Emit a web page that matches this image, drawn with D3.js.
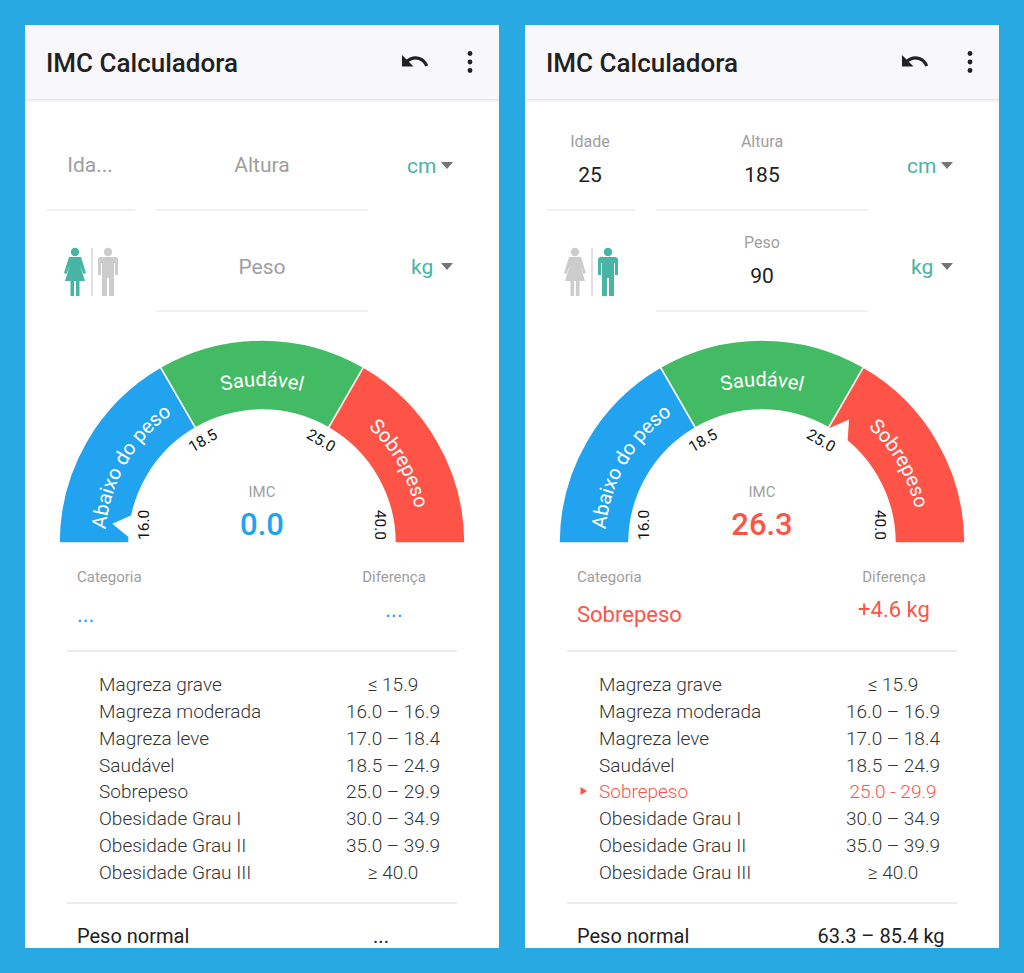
<!DOCTYPE html>
<html>
<head>
<meta charset="utf-8">
<script src="https://cdn.jsdelivr.net/npm/d3@7"></script>
<style>
html, body { margin: 0; padding: 0; background: #29a9e1; }
svg { display: block; font-family: Roboto, "Noto Sans", sans-serif; }
</style>
</head>
<body>
<div id="chart"></div>
<script>
// gauge ranges
const limites = [16, 18.5, 25, 40];
const faixas = ["Abaixo do peso", "Saudável", "Sobrepeso"];
const coresFaixa = ["#22a3ef", "#42bb64", "#fe5448"];

// reference table
const tabelaNomes = ["Magreza grave", "Magreza moderada", "Magreza leve", "Saudável",
    "Sobrepeso", "Obesidade Grau I", "Obesidade Grau II", "Obesidade Grau III"];
const tabelaFaixas = ["≤ 15.9", "16.0 – 16.9", "17.0 – 18.4", "18.5 – 24.9",
    "25.0 – 29.9", "30.0 – 34.9", "35.0 – 39.9", "≥ 40.0"];

// the two screens
const idades = ["", "25"];
const alturas = ["", "185"];
const pesos = ["", "90"];
const imcs = [0.0, 26.3];
const categorias = ["...", "Sobrepeso"];
const diferencas = ["...", "+4.6 kg"];
const pesosNormais = ["...", "63.3 – 85.4 kg"];
const sexos = ["F", "M"];
const linhaDestaque = [-1, 4];

const width = 1024, height = 973;
const panelW = 474, panelH = 923;
const teal = "#47b4a6", cinza = "#9e9e9e", cinzaIcone = "#cccccc";

const svg = d3.select("#chart").append("svg")
    .attr("width", width)
    .attr("height", height);

svg.append("rect").attr("width", width).attr("height", height).attr("fill", "#29a9e1");

const defs = svg.append("defs");
defs.append("clipPath").attr("id", "panel-clip")
    .append("rect").attr("width", panelW).attr("height", panelH);

const sombra = defs.append("linearGradient")
    .attr("id", "sombra").attr("x1", 0).attr("y1", 0).attr("x2", 0).attr("y2", 1);
sombra.append("stop").attr("offset", "0%").attr("stop-color", "rgba(0,0,0,0.10)");
sombra.append("stop").attr("offset", "100%").attr("stop-color", "rgba(0,0,0,0)");

// angle in degrees, 0 = top, clockwise
const angulo = d3.scaleLinear()
    .domain(limites)
    .range([-90, -30, 30, 90])
    .clamp(true);
const rad = d => d * Math.PI / 180;

const rInner = 133, rOuter = 203;
const arc = d3.arc()
    .innerRadius(rInner)
    .outerRadius(rOuter)
    .startAngle(d => rad(angulo(d.de)))
    .endAngle(d => rad(angulo(d.ate)));

const segmentos = faixas.map((f, i) => ({ nome: f, de: limites[i], ate: limites[i + 1], cor: coresFaixa[i] }));

function corDoValor(v) {
    if (v < limites[1]) return coresFaixa[0];
    if (v < limites[2]) return coresFaixa[1];
    return coresFaixa[2];
}

function pessoa(g, x, tipo, cor) {
    const p = g.append("g").attr("fill", cor);
    p.append("circle").attr("cx", x).attr("cy", 227).attr("r", 4.2);
    if (tipo === "F") {
        p.append("path").attr("d",
            `M${x - 6},232 L${x + 6},232 L${x + 11},248 L${x + 8.5},249 L${x + 5},240 L${x + 10},256 ` +
            `L${x - 10},256 L${x - 5},240 L${x - 8.5},249 L${x - 11},248 Z`);
        p.append("rect").attr("x", x - 4.5).attr("y", 255).attr("width", 3.6).attr("height", 16);
        p.append("rect").attr("x", x + 0.9).attr("y", 255).attr("width", 3.6).attr("height", 16);
    } else {
        p.append("path").attr("d",
            `M${x - 7},232 L${x + 7},232 Q${x + 10},232 ${x + 10},235 L${x + 10},250 L${x + 7},250 L${x + 7},238 ` +
            `L${x + 6},238 L${x + 6},271 L${x + 1},271 L${x + 1},253 L${x - 1},253 L${x - 1},271 L${x - 6},271 ` +
            `L${x - 6},238 L${x - 7},238 L${x - 7},250 L${x - 10},250 L${x - 10},235 Q${x - 10},232 ${x - 7},232 Z`);
    }
}

function campo(g, cx, x1, x2, rotulo, valor, yPlace, yRot, yVal, yLinha) {
    if (valor) {
        g.append("text").attr("x", cx).attr("y", yRot).attr("text-anchor", "middle")
            .attr("font-size", 16).attr("fill", cinza).text(rotulo);
        g.append("text").attr("x", cx).attr("y", yVal).attr("text-anchor", "middle")
            .attr("font-size", 21).attr("fill", "#212121").text(valor);
    } else {
        g.append("text").attr("x", cx).attr("y", yPlace).attr("text-anchor", "middle")
            .attr("font-size", 21).attr("fill", cinza)
            .text(rotulo.length > 4 && x2 - x1 < 100 ? rotulo.slice(0, 3) + "..." : rotulo);
    }
    g.append("line").attr("x1", x1).attr("x2", x2).attr("y1", yLinha).attr("y2", yLinha)
        .attr("stroke", "#ebebeb").attr("stroke-width", 1.5);
}

function unidade(g, x, y, texto) {
    g.append("text").attr("x", x).attr("y", y).attr("font-size", 21).attr("fill", teal).text(texto);
    g.append("path").attr("d", `M416,${y - 11} L428,${y - 11} L422,${y - 4} Z`).attr("fill", "#757575");
}

[0, 1].forEach(i => {
    const painel = svg.append("g")
        .attr("transform", `translate(${25 + i * 500},25)`)
        .attr("clip-path", "url(#panel-clip)");

    painel.append("rect").attr("width", panelW).attr("height", panelH).attr("fill", "#fff");

    // header bar
    painel.append("rect").attr("width", panelW).attr("height", 74).attr("fill", "#f8f8fc");
    painel.append("rect").attr("y", 74).attr("width", panelW).attr("height", 4).attr("fill", "url(#sombra)");
    painel.append("text").attr("x", 21).attr("y", 47)
        .attr("font-size", 26).attr("font-weight", 500).attr("fill", "#212121")
        .text("IMC Calculadora");
    painel.append("path")
        .attr("transform", "translate(374.4,21) scale(1.28)")
        .attr("fill", "#212121")
        .attr("d", "M12.5 8c-2.65 0-5.050.99-6.9 2.6L2 7v9h9l-3.62-3.62c1.39-1.16 3.16-1.88 5.12-1.88 3.54 0 6.55 2.31 7.6 5.5l2.37-.78C21.08 11.03 17.15 8 12.5 8z");
    painel.selectAll(".dot").data([28.5, 37, 45.5]).enter().append("circle")
        .attr("cx", 445).attr("cy", d => d).attr("r", 2.4).attr("fill", "#212121");

    // inputs
    campo(painel, 65, 21, 110, "Idade", idades[i], 147, 122, 157, 185);
    campo(painel, 237, 131, 343, "Altura", alturas[i], 147, 122, 157, 185);
    campo(painel, 237, 131, 343, "Peso", pesos[i], 249, 223, 258, 286);
    unidade(painel, 382, 148, "cm");
    unidade(painel, 386, 249, "kg");

    pessoa(painel, 50, "F", sexos[i] === "F" ? teal : cinzaIcone);
    pessoa(painel, 83, "M", sexos[i] === "M" ? teal : cinzaIcone);
    painel.append("line").attr("x1", 67).attr("x2", 67).attr("y1", 223).attr("y2", 271)
        .attr("stroke", "#d6d6d6").attr("stroke-width", 1.5);

    // gauge
    const gauge = painel.append("g").attr("transform", "translate(237,518)");
    gauge.selectAll(".seg").data(segmentos).enter().append("path")
        .attr("class", "seg")
        .attr("d", arc)
        .attr("fill", d => d.cor)
        .attr("stroke", "#fff")
        .attr("stroke-width", 1.5);

    const pathId = `label-arc-${i}`;
    const lp = d3.path();
    lp.arc(0, 0, 157, Math.PI, 2 * Math.PI);
    gauge.append("path").attr("id", pathId).attr("d", lp.toString()).attr("fill", "none");

    gauge.selectAll(".seg-label").data(segmentos).enter().append("text")
        .attr("class", "seg-label")
        .attr("font-size", 20)
        .attr("fill", "#fff")
        .append("textPath")
        .attr("href", `#${pathId}`)
        .attr("startOffset", d => `${((angulo(d.de) + angulo(d.ate)) / 2 + 90) / 180 * 100}%`)
        .attr("text-anchor", "middle")
        .text(d => d.nome);

    gauge.selectAll(".tick").data(limites).enter().append("text")
        .attr("class", "tick")
        .attr("transform", d => `rotate(${angulo(d)})`)
        .attr("x", (d, j) => j === 0 ? 3 : j === limites.length - 1 ? -3 : 0)
        .attr("y", -113)
        .attr("text-anchor", (d, j) => j === 0 ? "start" : j === limites.length - 1 ? "end" : "middle")
        .attr("font-size", 15.5)
        .attr("fill", "#111")
        .text(d => d3.format(".1f")(d));

    // pointer notch
    const a = Math.max(-82.7, Math.min(82.7, angulo(imcs[i])));
    const w = 5.5;
    const pt = (ang, r) => [r * Math.sin(rad(ang)), -r * Math.cos(rad(ang))];
    gauge.append("path")
        .attr("d", d3.line()([pt(a - w, 131), pt(a, 151), pt(a + w, 131)]) + "Z")
        .attr("fill", "#fff");

    const cor = corDoValor(imcs[i]);
    gauge.append("text").attr("y", -46).attr("text-anchor", "middle")
        .attr("font-size", 15).attr("fill", cinza).text("IMC");
    gauge.append("text").attr("y", -8).attr("text-anchor", "middle")
        .attr("font-size", 31).attr("font-weight", 500).attr("fill", cor)
        .text(d3.format(".1f")(imcs[i]));

    // result
    painel.append("text").attr("x", 52).attr("y", 557).attr("font-size", 15).attr("fill", cinza).text("Categoria");
    painel.append("text").attr("x", 369).attr("y", 557).attr("text-anchor", "middle")
        .attr("font-size", 15).attr("fill", cinza).text("Diferença");
    painel.append("text").attr("x", 52).attr("y", 597).attr("font-size", 22).attr("fill", cor).text(categorias[i]);
    painel.append("text").attr("x", 369).attr("y", 592).attr("text-anchor", "middle")
        .attr("font-size", 22).attr("fill", cor).text(diferencas[i]);

    painel.append("line").attr("x1", 42).attr("x2", 432).attr("y1", 626).attr("y2", 626)
        .attr("stroke", "#e4e4e4").attr("stroke-width", 1.5);

    // table
    const yLinha = d3.scaleLinear().domain([0, tabelaNomes.length - 1]).range([666, 854]);
    const linhas = painel.selectAll(".row").data(tabelaNomes).enter().append("g").attr("class", "row");
    linhas.append("text").attr("x", 74).attr("y", (d, j) => yLinha(j))
        .attr("font-size", 19).attr("font-weight", 300)
        .attr("fill", (d, j) => j === linhaDestaque[i] ? coresFaixa[2] : "#333")
        .text(d => d);
    linhas.append("text").attr("x", 368).attr("y", (d, j) => yLinha(j))
        .attr("text-anchor", "middle")
        .attr("font-size", 19).attr("font-weight", 300)
        .attr("fill", (d, j) => j === linhaDestaque[i] ? coresFaixa[2] : "#333")
        .text((d, j) => j === linhaDestaque[i] ? tabelaFaixas[j].replace("–", "-") : tabelaFaixas[j]);
    if (linhaDestaque[i] >= 0) {
        const yy = yLinha(linhaDestaque[i]) - 7.5;
        painel.append("path").attr("d", `M55.5,${yy - 4} L62,${yy} L55.5,${yy + 4} Z`).attr("fill", coresFaixa[2]);
    }

    painel.append("line").attr("x1", 42).attr("x2", 432).attr("y1", 878).attr("y2", 878)
        .attr("stroke", "#e4e4e4").attr("stroke-width", 1.5);

    painel.append("text").attr("x", 52).attr("y", 918).attr("font-size", 20).attr("fill", "#212121").text("Peso normal");
    painel.append("text").attr("x", 356).attr("y", 918).attr("text-anchor", "middle")
        .attr("font-size", 20).attr("fill", "#212121").text(pesosNormais[i]);
});
</script>
</body>
</html>
